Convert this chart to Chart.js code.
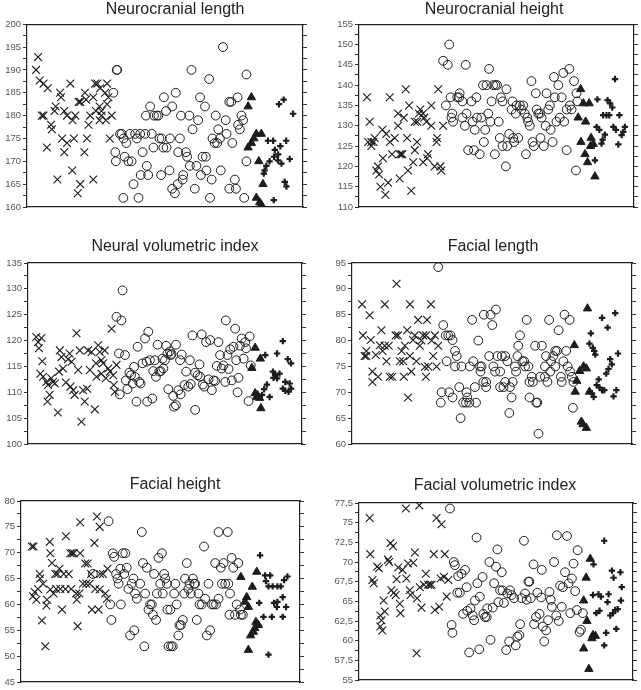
<!DOCTYPE html>
<html>
<head>
<meta charset="utf-8">
<script src="https://cdn.jsdelivr.net/npm/chart.js@4.4.1/dist/chart.umd.min.js"></script>
<style>
  html, body { margin: 0; padding: 0; background: #fff; width: 641px; height: 690px; overflow: hidden; }
  .panel { position: absolute; }
</style>
</head>
<body>
<canvas id="c1" class="panel" width="350" height="215" style="left:0px;top:0px"></canvas>
<canvas id="c2" class="panel" width="328" height="215" style="left:330px;top:0px"></canvas>
<canvas id="c3" class="panel" width="350" height="215" style="left:0px;top:237px"></canvas>
<canvas id="c4" class="panel" width="342" height="215" style="left:322px;top:237px"></canvas>
<canvas id="c5" class="panel" width="350" height="215" style="left:0px;top:475px"></canvas>
<canvas id="c6" class="panel" width="330" height="212" style="left:330px;top:476px"></canvas>
<script>
// each point: [specimen order, measurement]

// Neurocranial length
const nlCross = [[4,192.8],[3.3,190],[4.6,187.7],[6,187],[7.5,186],[5.4,180],[6,180],[8.7,178],[9,177],[7.2,173],[10,181],[10.4,182],[12,185],[12.3,184],[11,166],[13.5,181],[14.5,180],[12.7,175],[14.5,174],[13.5,172],[15.7,187],[16.5,179],[17.5,180],[17,175],[16.4,168],[18.7,183],[19.3,183],[19.3,165],[18.4,163],[21,185],[21.4,183.5],[21.7,175],[20.8,172],[22.3,178],[22.9,180],[24,166],[24,184],[24.7,187],[25.5,187],[26.5,186],[26.3,182],[26.3,179],[27,180],[27,181],[28.3,185],[29,187],[29,182.5],[28.6,179],[30.7,180],[30,175],[29.5,184],[25,181]];
const nlCircle = [[32.5,190],[32.7,190],[31.3,185],[33.7,176],[34.3,176],[32,172],[32.2,170],[35,175],[36,174],[35.4,171],[36.7,170],[37.9,170],[34.9,162],[37.3,176],[38.6,165],[39.2,176],[39.8,175],[40.4,162],[41,176],[41.9,172],[41.2,167],[42.8,176],[43.4,169],[43.9,167],[43.1,180],[44.6,182],[45.2,176],[45.8,173],[46,180],[47,180],[47.6,180],[48,175],[48.8,175],[48.6,167],[49.6,184],[49.4,173],[50.6,173],[50.4,181],[51.6,168],[51.8,175],[52.6,182],[53.9,185],[52.6,164],[53.6,163],[54.6,165],[55.4,175],[55.8,180],[54.8,172],[56.6,167],[56.4,166],[57.6,172],[58,171],[58.8,180],[59,169],[59.6,190],[60,177],[60.8,164],[61.4,169],[62,179],[62.7,184],[63,167],[63.6,171],[64.5,182],[64.8,171],[65,168],[66,188],[66.3,162],[66.9,166],[67.2,175],[68,174],[68.4,180],[69.3,177],[68.9,174],[69.9,175],[70.2,168],[71,195],[72,179],[72.3,176],[73.3,183],[74,183],[74.4,174],[73.3,164],[75.3,166],[75.7,164],[76.3,184],[76.5,178],[77.1,177],[77.7,180],[78.3,179],[78.7,162],[79.5,189],[79.5,170]];
const nlTriangle = [[81.3,184],[80.1,182],[83.1,176],[84.9,176],[82.2,175],[81.3,174],[80.1,173],[84,170],[85.5,165],[83.1,162],[84.3,161],[84.9,160.5]];
const nlPlus = [[91.3,182.5],[93,183.5],[96.4,180.4],[87.3,174.5],[89.2,174.5],[93.9,174.5],[91.8,173.3],[89.8,172.5],[91,171.5],[89.5,171],[87.9,170],[90.9,170.2],[95.2,170.5],[86.7,169],[92.2,169.5],[86.1,168],[85.8,167.3],[93.4,165.5],[94,164.5],[89.4,161.5]];

// Neurocranial height
const nhCross = [[2.9,137],[3.9,131],[3.3,126],[4.5,126],[5.3,126],[4.5,125],[5.7,127],[6.9,120],[6.3,119],[7.3,118],[7.8,115],[9.6,113],[10.6,116],[8.7,122],[8.5,129],[9.9,128],[11.2,137],[11.2,126],[12,123],[13,127],[14.2,133],[14.2,130],[14.8,123],[15.4,123],[15.8,123],[14.8,117],[16.3,132],[17,139],[17.5,127],[18.2,135],[17.8,119],[19,114],[19.7,121],[20.3,124],[21.1,126],[20.3,131],[21.2,131],[21.8,133],[22.3,134],[23.3,133],[23.7,132],[23.3,121],[24.8,122],[25.1,123],[24.5,131],[26.3,135],[26.3,130],[27.5,120],[28.2,126],[28.4,127],[28.8,139],[29.6,120],[29.9,119],[30.6,130]];
const nhCircle = [[32.8,150],[30.6,146],[32.3,145],[38.8,145],[47.3,144],[31.6,135],[33.3,137],[33.9,133],[33.6,132],[34.2,131],[35.7,137],[36.6,138],[36.4,137],[37.6,136],[37.6,132],[38.5,130],[39.1,133],[39.7,124],[40.9,136],[41.3,131],[41.8,124],[42.1,129],[42.7,137],[42.9,132],[43.9,123],[44.5,132],[45.1,140],[45.4,126],[45.9,129],[46.4,140],[47,133],[47.8,131],[48.2,136],[48.8,140],[49.6,140],[50.2,140],[49.4,123],[50.8,131],[51.2,127],[51.6,137],[52.2,136],[52.2,125],[53.4,120],[53.6,139],[53.9,125],[54.6,128],[55.5,134],[56.1,127],[55.8,136],[56.4,126],[57,133],[57.3,135],[57.9,127],[58.5,135],[59.1,134],[59.7,135],[60.3,133],[60.7,123],[61.2,132],[61.5,131],[62.1,130],[62.7,141],[63.1,126],[63.6,125],[64.3,138],[64.6,134],[65.2,133],[65.8,133],[66,127],[66.4,132],[67.2,125],[67.9,130],[68.2,138],[68.8,134],[69.4,135],[69.7,129],[70.4,126],[70.9,142],[71.2,137],[71.8,131],[72.5,140],[73,132],[73.7,137],[74.3,143],[74.6,131],[75.5,124],[75.5,134],[76.5,144],[76.7,135],[77.3,134],[78.2,141],[78.9,119],[79.4,136],[79.1,138]];
const nhTriangle = [[80.6,139],[81.6,135.5],[83.7,135.5],[79.7,132],[82.4,131],[80.7,126],[84.4,127],[85.2,125.5],[84.2,125],[82.2,123],[83.1,121],[85.8,117.5]];
const nhPlus = [[93.1,141.5],[86.7,136.5],[90.4,136.3],[91.3,135.5],[92.1,134.5],[88.8,132.6],[90,132.6],[91,132.6],[94.7,132.6],[86.4,129.7],[87.4,129],[92.5,129.7],[93.4,129],[96.7,129.7],[96.1,128.5],[95.5,127.7],[89.4,127.8],[88.6,126.6],[88.2,125.6],[94.3,125.4],[85.8,121.5]];

// Neural volumetric index
const nvCross = [[3,120.7],[4.9,120.5],[3.7,119.7],[4,118.5],[5.2,116],[4.5,113.6],[5.5,113],[6.7,112],[7.3,111.4],[8.5,112.7],[9.1,112],[9.8,111.7],[7.9,109.5],[7.1,108.2],[10.9,106.1],[11.6,118.1],[12.2,116.8],[11.3,114],[12.8,114.6],[13.8,111.9],[14.6,116.4],[15.2,117.5],[15.9,115.9],[15.5,111.1],[16.5,110.4],[17,109.5],[17.7,121.4],[18.3,114.3],[18.9,118.1],[19.5,104.3],[20.1,110.4],[20.7,108.2],[21.6,110.7],[21.9,118.1],[23.2,117.8],[22.6,114.3],[24.4,106.7],[24.8,115.6],[25,113],[25.6,119.1],[26.2,117.8],[26.8,116.2],[26.8,113.6],[27.4,115.6],[28,118.1],[28.4,112.7],[29.3,114.6],[29.9,114],[30.5,122.3],[31.1,113.3],[31.3,111.4],[31.7,110.1],[32.3,115.3]];
const nvCircle = [[34.5,129.7],[32.3,124.6],[34.1,123.9],[33.2,117.5],[35.4,117.2],[33.5,109.6],[35.7,112.3],[36.3,110.6],[37,113.8],[37.6,113.3],[38.2,111.7],[38.7,114.9],[39,113],[39.6,108.2],[40,118.8],[40.6,112],[41.1,111.7],[41.8,115.6],[42.7,120.4],[43.3,115.9],[43.9,121.7],[43.5,108.2],[44.5,116.2],[45.4,108.8],[45.7,114.1],[46.3,116.2],[46.7,113],[47.3,119.2],[47.9,114],[48.4,114.1],[49.4,114.6],[49.1,116.5],[50,116.2],[50.4,119],[50.9,117.5],[51.8,117.9],[52.1,117.2],[52.4,117.4],[51.2,110.6],[53,109.3],[53.3,107.2],[54,107.5],[54,119.2],[54.9,110.4],[55.7,109.6],[56.1,117.3],[55.5,116.2],[57.1,111.4],[57.7,114],[58.5,111.1],[59.1,116.2],[59.4,111.6],[60,121],[61,106.6],[61,113.8],[61.9,113.3],[62.6,115.4],[62.8,113],[63.4,121.2],[63.8,111.5],[64.3,111.1],[65,119.7],[65.9,112.5],[66.5,120.1],[67.1,110.4],[67.7,112.3],[68.3,112.2],[69.5,119.7],[68.9,115.1],[70.1,117.2],[70.7,114.6],[71.3,115.2],[72,112],[72.2,123.9],[72.8,117.2],[73.2,114.5],[73.8,118.3],[74.4,112.3],[75,118.8],[75.6,122.3],[76,116.2],[76.8,112.8],[76.5,110],[77.4,119],[78,120.4],[78.7,116.5],[79.6,118.5],[79.3,119.7],[80.9,120.8],[80.5,108.3],[81.3,115.2]];
const nvTriangle = [[82.9,118.6],[84.8,116.5],[81.7,114.7],[82.9,109.8],[83.5,109.1],[83.8,109.4],[84.5,108.9],[85,106.9]];
const nvPlus = [[93,119.9],[86.6,117.2],[90.9,117.5],[94.8,116.4],[96,115.6],[89.4,114],[90.2,113.4],[91.8,113.6],[89.6,112.8],[90.9,112.7],[93.9,112],[95.5,111.7],[87.2,111.5],[86.2,110.6],[93,110.7],[93.9,110.3],[96,110.7],[95.1,110.1],[85.4,109.5],[88.2,109.1]];

// Facial length
const flCross = [[3.6,87],[6.3,84.9],[3.9,81],[6.7,80.1],[5.1,78],[4.5,77],[5.1,77],[7.3,74],[7.3,72],[8.5,77.2],[9.3,73],[9.9,79.1],[10.5,82],[10.9,78],[11.7,87],[12.3,76],[11.7,79],[13.1,79],[13.5,73],[14.4,73],[15.9,91],[15.6,81],[16.4,81],[17.1,76],[17.7,78],[18.3,76],[18.5,73],[18.9,79],[19.7,82],[20,69],[20.7,87],[20.7,77],[21.2,74],[21.8,80.1],[22.4,81],[23,76],[23.6,84],[24.2,79],[24.8,80],[25.4,81],[26.4,81],[26.8,84],[26.4,73],[26,74.9],[27.2,75],[28.2,87],[28.4,80],[29,77],[29.6,81],[30.2,75],[30.8,79]];
const flCircle = [[30.8,94.2],[32.6,83],[33.5,81],[34.4,81],[35.2,81],[35.9,80.1],[33.8,76],[36.8,78],[37.4,77],[36.8,75],[39.1,75],[32,70],[31.7,68],[34.7,70],[35.9,69],[38.3,71],[38.8,65],[39.7,68],[40.9,70],[41.2,69],[40.7,68],[41.9,68],[44.3,68],[43.9,71],[42.1,75],[42.9,84],[43.3,76],[45.1,80],[45.7,75],[46.3,75],[45.9,74],[47.1,85],[46.9,72],[47.9,72],[47.9,71],[49,77],[49.5,85],[50.1,83],[50.5,75],[51.4,86],[51.1,74],[51.9,77],[52.9,74],[52.9,71],[53.5,77],[54.1,71],[54.7,77],[54.7,72],[55.5,76],[56.2,66],[56.4,71],[57,69],[57.4,72],[58.2,75],[58.6,74],[59.1,77],[59.4,79],[60,81],[60.9,76],[61.5,76],[61.8,75],[62.4,84],[63,75],[63.4,69],[63.4,72],[64.2,73],[64.6,72],[65.4,79],[65.8,68],[66.2,68],[67.2,73],[67.8,79],[66.6,62],[68.9,75],[68.9,73],[69.3,77],[69.8,72],[70.4,84],[70.8,74],[71.1,76],[71.9,77],[72.6,78],[73.2,78],[72.6,75],[73.8,82],[74.6,73],[74.9,72],[75.5,76],[75.9,85],[76.5,78],[77,75],[77.7,84],[77.9,74],[78.5,73],[78.9,67],[79.1,72]];
const flTriangle = [[84.1,86.2],[79.4,79.1],[82.7,75],[83.7,74.6],[81.3,74.1],[80.3,72.2],[79.7,70.1],[84.8,70.1],[81.9,64.3],[82.5,63.8],[83.7,63.1]];
const flPlus = [[89.3,84.4],[94,85.3],[91.3,82.5],[85.3,81.4],[84.8,79.4],[86,78.6],[86.5,78],[86.9,77.3],[95,77.5],[92.2,76.4],[92.8,75.4],[91.6,74.5],[90.8,73.6],[88.1,72.5],[87.4,71.4],[88.4,70.9],[89.3,70.4],[90.1,70.4],[94.4,70.4],[85.7,69.8],[86.3,69.1],[93.4,69.2]];

// Facial height
const fhCross = [[3.9,71.2],[4.5,71.2],[4.9,62.4],[4.3,61.6],[5.5,60.9],[6.1,63],[6.7,65.9],[6.9,65],[7.9,64],[7.5,56.9],[8.7,51.9],[9.3,60.9],[9.1,59.8],[10.3,72.1],[10.5,69.9],[11.1,68],[10.5,62.9],[11.7,62.1],[12.6,63],[12.3,65.9],[13.1,65.9],[13.8,66.9],[14.1,63],[14.7,59],[15.3,65.9],[15.9,63],[16.1,73.2],[17.1,65.9],[17.7,69.9],[18.3,69.9],[18,63],[18.9,69.9],[19.8,62.1],[20,60.9],[20.3,55.8],[20.9,62.1],[21.2,75.9],[21.2,69.9],[22.2,64],[23,67.9],[23.4,64],[23.9,67.9],[24.6,64],[25.1,65.9],[25.4,59],[26.3,71.9],[26.6,63],[27.2,77],[27.8,59],[28.2,75],[28.4,65.9],[28.2,62.9],[29.4,65.9],[30.2,62.1],[30.8,61.1],[31,66.9]];
const fhCircle = [[31.4,76.1],[25.8,65.9],[32,60],[32.4,57],[32.9,69.9],[33.4,69.2],[34.1,65.9],[34.6,65],[35,64],[35.6,66.9],[35.8,60],[36.5,69.9],[37.4,69.9],[37,65.9],[37.9,67.1],[38.5,63],[39.1,54],[39.7,64],[40.3,65],[40.6,55],[40.9,62.1],[41.5,61.1],[42.7,64],[43.3,74],[43.7,68],[44.2,51.9],[44.5,62.1],[45.1,67.1],[45.7,59],[46.3,60],[46.9,60],[47.3,58],[47.7,65.9],[48.4,57],[48.7,62.1],[49.3,69],[49.9,64],[50.5,69.9],[50.8,62.1],[51.3,65.9],[51.7,65],[52.3,64],[52.5,59],[52.9,51.9],[53.5,59],[53.8,51.9],[54.4,51.9],[54.9,62.1],[55.3,64],[55.8,60],[56.4,54],[56.8,56],[57.3,56],[58,57],[58.5,62.1],[58.8,65],[59.4,68],[60,63],[60.4,64],[60.9,62.1],[61.6,65],[62.1,64],[62.4,64],[63,57],[63.6,62.1],[64,60],[64.8,60],[65.6,71.2],[66,61.1],[66.6,54],[67.2,64],[67.8,55],[68.4,60],[69,60],[69.6,68],[69.9,60],[70.8,74],[70.8,61.1],[71.6,67.1],[72,64],[72.6,68],[73.2,64],[74.1,74],[74.3,64],[74.9,62.1],[74.7,58],[75.5,69],[76.1,67.1],[76.7,58],[77.3,60],[77.9,68],[78.5,59],[78.8,58],[79.5,58]];
const fhTriangle = [[84.5,66.3],[78.8,65.3],[82.9,63.4],[80.9,61.4],[80.3,60.5],[81.5,59.5],[84.2,56.6],[85.1,56],[83.8,55.4],[83.3,54.7],[82.3,54],[81.5,51.2]];
const fhPlus = [[85.7,69.5],[87.5,65.6],[89.3,65.6],[95.5,65.4],[94.3,64.7],[87.8,64.5],[88.7,63.5],[90.2,63.5],[91.9,63.5],[93.1,63.5],[93.8,61.4],[85.4,60.3],[90.7,60.3],[91.7,59.5],[95,59.5],[91.9,60.5],[86.9,57.6],[89.9,57.6],[93.8,57.6],[88.7,50.3]];

// Facial volumetric index
const fvCross = [[3.9,75.6],[4.1,71],[4.9,67.7],[5.4,67.3],[6.6,69.4],[7.3,69.2],[8.2,62.6],[7.8,61.8],[8.5,61.3],[7.8,63.2],[9.4,63.7],[9,65.1],[10.6,70.3],[11,70],[11.5,72.4],[12.4,72],[11.8,66.4],[12.7,66.1],[13.7,67.8],[13.4,65.8],[14.3,69.3],[14.9,64.7],[15.1,63.5],[15.9,69],[17.1,76.8],[17.3,67.9],[17.9,69.8],[18.5,66.4],[18.8,65.8],[19.8,69.9],[20.4,71.2],[21,58.4],[21.2,65.4],[22,77.2],[22.2,66.8],[22.8,64.2],[23.7,67.1],[24.4,68.5],[25.2,67.1],[25.9,67.1],[26.5,67.1],[27.3,71],[27.7,63.9],[28.3,75.6],[29.3,64.3],[30.1,74.8],[29.8,67.9],[31,68.1],[31.3,71],[32,65.6],[32.6,67.7]];
const fvCircle = [[33.2,76.8],[34.6,70],[35,69.6],[33.8,62],[34.1,61],[36.2,68.2],[35.9,66.1],[36.8,66.1],[37.4,68.5],[38,63.4],[38.7,69],[39.3,66.8],[39.5,63.8],[40.2,58.5],[40.7,64.1],[41.5,63.2],[42,62.6],[42.3,65.1],[42.9,73.1],[43.2,67.3],[43.9,58.9],[44.1,65.6],[45.1,68.1],[45.4,63.4],[46,63],[46.6,63],[46.8,64.1],[47.6,70],[48,60.1],[48.8,64.2],[49.3,67.3],[50,69.4],[50.5,71.6],[50.9,64.9],[51.5,66.4],[52.1,68.7],[52.4,66.4],[52.9,64.8],[53.7,58.8],[54.1,66],[54.8,59.9],[55.1,66.4],[55.7,65.8],[56.6,65.4],[57.2,59.4],[57.8,60.5],[58.5,60.7],[58.8,62.1],[59.3,65.4],[60.2,72.7],[60.6,66],[61.2,65.2],[61.8,67.5],[62.2,67.5],[62.7,65.4],[63.7,69.7],[63.9,62.1],[64.6,63],[65.1,66.1],[65.9,63.4],[66.5,65.5],[66.7,69],[67.1,61.8],[67.6,59.9],[68.3,61.3],[69,62.6],[69.5,66.2],[70,65.2],[70.4,64.3],[71.2,70],[72,63.2],[72.2,73.4],[72.9,62.5],[73.4,67],[74,64.3],[74.4,66.8],[75.2,68.7],[75.9,73.3],[76.5,67.3],[77.1,63.5],[77.7,67.9],[78.3,69.8],[78.9,66.3],[79.5,63.9],[79.8,71.5],[80.5,61.1],[81,61.4],[81.7,63.5]];
const fvTriangle = [[84.4,70.4],[82.9,68],[82,65.1],[83.2,62.5],[85.4,60.7],[86.3,60.6],[85,60.3],[82,59],[83.9,56.4]];
const fvPlus = [[89.5,72.7],[85.6,69.7],[92.3,68.9],[95.4,68.7],[92.9,68],[95.9,66.8],[85.4,65.8],[87.4,65.9],[88.3,65.6],[91.1,65.9],[90.7,64.9],[95.6,65.1],[86.6,63.5],[87.8,63.8],[91.7,63.2],[92.7,63.5],[93.5,63.9],[94.4,64],[93.9,61.5],[90.2,61],[89.5,59.4]];

const INK = '#1c1c1c';
const LABEL_FONT = { family: '"Liberation Sans", Arial, sans-serif', size: 9.5 };

function markerDataset(points, kind) {
    const styles = {
        cross:    { pointStyle: 'crossRot', pointRadius: 5.5, pointBorderWidth: 1.1, pointBackgroundColor: 'transparent' },
        circle:   { pointStyle: 'circle',   pointRadius: 4.4, pointBorderWidth: 1.0, pointBackgroundColor: 'transparent' },
        triangle: { pointStyle: 'triangle', pointRadius: 4.8, pointBorderWidth: 1.0, pointBackgroundColor: INK },
        plus:     { pointStyle: 'cross',    pointRadius: 3.2, pointBorderWidth: 2.2, pointBackgroundColor: INK }
    };
    return {
        data: points.map(([x, y]) => ({ x, y })),
        pointBorderColor: INK,
        pointHoverRadius: 0,
        showLine: false,
        ...styles[kind]
    };
}

function createScatterPanel(ctx, {
    title,
    groups,
    min,
    max,
    major,
    minor,
    leftWidth,
    rightWidth,
    titleGap,
    decimalComma = false
}) {

    const isMajor = v => Math.abs(v / major - Math.round(v / major)) < 1e-6;

    const frame = { display: true, color: '#222', width: 1.2 };

    return new Chart(ctx, {
        type: 'scatter',
        data: {
            datasets: [
                markerDataset(groups[0], 'cross'),
                markerDataset(groups[1], 'circle'),
                markerDataset(groups[2], 'triangle'),
                markerDataset(groups[3], 'plus')
            ]
        },
        options: {
            responsive: false,
            animation: false,
            events: [],
            layout: { padding: { top: 0, bottom: 8, left: 0, right: 0 } },

            plugins: {
                legend: { display: false },
                tooltip: { enabled: false },
                title: {
                    display: true,
                    text: title,
                    color: '#222',
                    font: { family: '"Liberation Sans", Arial, sans-serif', size: 16, weight: 'normal' },
                    padding: { top: 0, bottom: titleGap }
                }
            },

            scales: {
                x: {
                    type: 'linear',
                    min: 0,
                    max: 100,
                    ticks: { display: false },
                    grid: { display: false, drawTicks: false },
                    border: frame,
                    afterFit: s => { s.height = 0; }
                },
                xTop: {
                    type: 'linear',
                    position: 'top',
                    display: true,
                    min: 0,
                    max: 100,
                    ticks: { display: false },
                    grid: { display: false, drawTicks: false },
                    border: frame,
                    afterFit: s => { s.height = 0; }
                },
                y: {
                    min,
                    max,
                    ticks: {
                        stepSize: minor,
                        autoSkip: false,
                        padding: 2,
                        color: '#555',
                        font: LABEL_FONT,
                        callback: v => {
                            if (!isMajor(v)) return '';
                            return decimalComma ? String(v).replace('.', ',') : String(v);
                        }
                    },
                    grid: { display: true, drawOnChartArea: false, drawTicks: true, tickLength: 4, tickColor: '#333' },
                    border: frame,
                    afterFit: s => { s.width = leftWidth; }
                },
                yRight: {
                    position: 'right',
                    display: true,
                    min,
                    max,
                    ticks: { display: false, stepSize: minor, autoSkip: false },
                    grid: { display: true, drawOnChartArea: false, drawTicks: true, tickLength: 4, tickColor: '#333' },
                    border: frame,
                    afterFit: s => { s.width = rightWidth; }
                }
            }
        }
    });
}

createScatterPanel(document.getElementById('c1'), {
    title: 'Neurocranial length',
    groups: [nlCross, nlCircle, nlTriangle, nlPlus],
    min: 160, max: 200, major: 5, minor: 2.5,
    leftWidth: 27, rightWidth: 47, titleGap: 5
});

createScatterPanel(document.getElementById('c2'), {
    title: 'Neurocranial height',
    groups: [nhCross, nhCircle, nhTriangle, nhPlus],
    min: 110, max: 155, major: 5, minor: 2.5,
    leftWidth: 29, rightWidth: 24, titleGap: 5
});

createScatterPanel(document.getElementById('c3'), {
    title: 'Neural volumetric index',
    groups: [nvCross, nvCircle, nvTriangle, nvPlus],
    min: 100, max: 135, major: 5, minor: 2.5,
    leftWidth: 28, rightWidth: 48, titleGap: 6.8
});

createScatterPanel(document.getElementById('c4'), {
    title: 'Facial length',
    groups: [flCross, flCircle, flTriangle, flPlus],
    min: 60, max: 95, major: 5, minor: 2.5,
    leftWidth: 30, rightWidth: 32, titleGap: 6.8
});

createScatterPanel(document.getElementById('c5'), {
    title: 'Facial height',
    groups: [fhCross, fhCircle, fhTriangle, fhPlus],
    min: 45, max: 80, major: 5, minor: 2.5,
    leftWidth: 21, rightWidth: 50, titleGap: 6.8
});

createScatterPanel(document.getElementById('c6'), {
    title: 'Facial volumetric index',
    groups: [fvCross, fvCircle, fvTriangle, fvPlus],
    min: 55, max: 77.5, major: 2.5, minor: 1.25,
    leftWidth: 29, rightWidth: 27, titleGap: 7.8,
    decimalComma: true
});
</script>
</body>
</html>
